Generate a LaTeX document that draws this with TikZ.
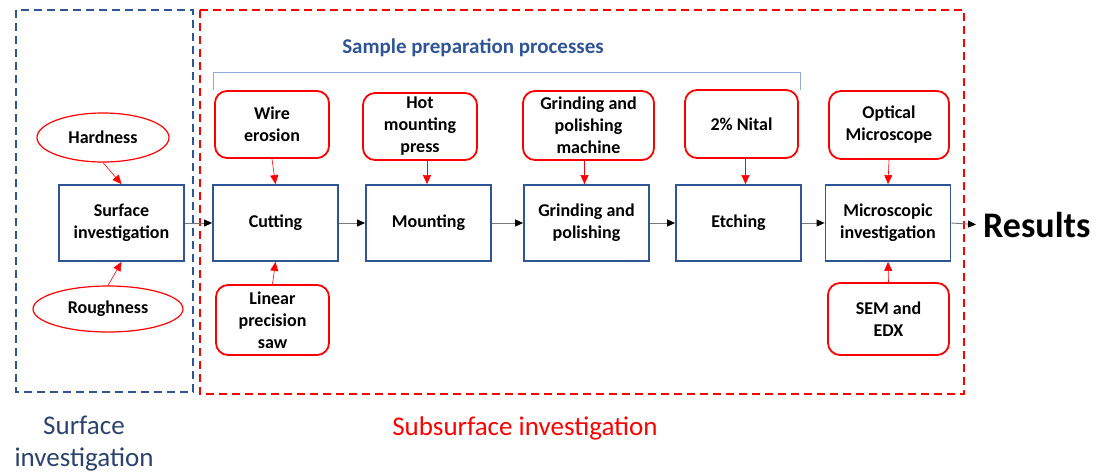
\documentclass[tikz,border=0pt]{standalone}
\usepackage{fontspec}
\setmainfont{Carlito}
\usetikzlibrary{arrows.meta,shapes.geometric,calc}
\definecolor{bbox}{RGB}{47,85,151}
\definecolor{rbox}{RGB}{255,0,0}
\definecolor{lblue}{RGB}{143,170,220}
\definecolor{dblue}{RGB}{44,66,110}
\definecolor{garr}{RGB}{120,120,120}
\tikzset{
  procbox/.style={draw=bbox, line width=1.8pt, minimum width=125pt, minimum height=76pt, align=center, font=\fontsize{18}{22}\selectfont\bfseries, inner sep=0pt},
  toolbox/.style={draw=rbox, line width=1.8pt, rounded corners=12pt, align=center, font=\fontsize{18}{22}\selectfont\bfseries, inner sep=0pt},
  oval/.style={draw=rbox, line width=1.2pt, ellipse, inner sep=0pt, font=\fontsize{18}{22}\selectfont\bfseries},
  flow/.style={draw=garr, line width=0.9pt, -{Triangle[length=8pt,width=7pt,fill=black,color=black]}},
  tool/.style={draw=rbox, line width=0.6pt, -{Triangle[length=9pt,width=8pt,fill=rbox,color=rbox]}},
  frame/.style={line width=1.3pt, dash pattern=on 8pt off 5pt}
}
\begin{document}
\begin{tikzpicture}[x=1pt,y=-1pt]
\useasboundingbox (0,0) rectangle (1098,474);
% frames
\draw[frame, draw=bbox] (16,10) rectangle (193,392);
\draw[frame, draw=rbox] (200,10) rectangle (964,394);
% bracket
\coordinate (bl) at (213,90);
\coordinate (br) at (800,90);
\draw[lblue, line width=0.9pt] (bl) -- (213,72) -- (800,72) -- (br);
\node[text=bbox, font=\fontsize{21}{24}\selectfont\bfseries] (spp) at (473,48) {Sample preparation processes};
% process boxes
\node[procbox] (surf) at (121.5,223) {Surface\\investigation};
\node[procbox] (cut) at (275.5,223) {Cutting};
\node[procbox] (mount) at (428.5,223) {Mounting};
\node[procbox] (grind) at (586.5,223) {Grinding and\\polishing};
\node[procbox] (etch) at (738.5,223) {Etching};
\node[procbox] (micro) at (888,223) {Microscopic\\investigation};
\node[anchor=west, inner sep=0pt, font=\fontsize{36}{40}\selectfont\bfseries] (res) at (983,225) {Results};
% tools
\node[toolbox, minimum width=114pt, minimum height=67pt] (wire) at (272,124.5) {Wire\\erosion};
\node[toolbox, minimum width=113pt, minimum height=70pt] (saw) at (272.5,320) {Linear\\precision\\saw};
\node[toolbox, minimum width=114pt, minimum height=67pt] (hot) at (420,126.5) {Hot\\mounting\\press};
\node[toolbox, minimum width=131pt, minimum height=69pt] (gpm) at (588.5,125.5) {Grinding and\\polishing\\machine};
\node[toolbox, minimum width=113pt, minimum height=68pt] (nital) at (741.5,124) {2\% Nital};
\node[toolbox, minimum width=120pt, minimum height=68pt] (opt) at (889,125) {Optical\\Microscope};
\node[toolbox, minimum width=121pt, minimum height=72pt] (sem) at (888.5,319) {SEM and\\EDX};
\node[oval, minimum width=132pt, minimum height=49pt] (hard) at (103,137.5) {Hardness};
\node[oval, minimum width=150pt, minimum height=46pt] (rough) at (108,309) {Roughness};
% flow arrows
\draw[flow] (surf) -- (cut);
\draw[flow] (cut) -- (mount);
\draw[flow] (mount) -- (grind);
\draw[flow] (grind) -- (etch);
\draw[flow] (etch) -- (micro);
\draw[flow, shorten >=7pt] (micro.east) -- (res.west);
% tool arrows
\draw[tool] (hard.south) -- (surf.north);
\draw[tool] (rough.north) -- (surf.south);
\draw[tool] (wire.south) -- (cut.north);
\draw[tool] (saw.north) -- (cut.south);
\draw[tool] ($(hot.south)+(7,0)$) -- ($(hot.south |- mount.north)+(7,0)$);
\draw[tool] ($(gpm.south)+(-4,0)$) -- ($(gpm.south |- grind.north)+(-4,0)$);
\draw[tool] ($(nital.south)+(4,0)$) -- ($(nital.south |- etch.north)+(4,0)$);
\draw[tool] (opt.south) -- (micro.north);
\draw[tool] (sem.north) -- (micro.south);
% bottom labels
\node[text=dblue, align=center, font=\fontsize{27}{32}\selectfont] (lsurf) at (84,444) {Surface\\investigation};
\node[text=rbox, font=\fontsize{27}{32}\selectfont] (lsub) at (525,428) {Subsurface investigation};
\end{tikzpicture}
\end{document}
